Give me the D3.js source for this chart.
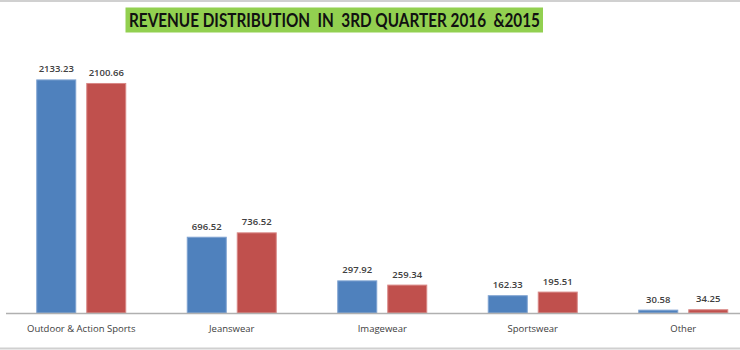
<!DOCTYPE html>
<html><head><meta charset="utf-8">
<script src="https://cdn.jsdelivr.net/npm/d3@7"></script>
<style>body{margin:0;background:#fff}svg{display:block}</style>
</head><body>
<svg id="c" width="740" height="350"></svg>
<script>
const categories = ["Outdoor & Action Sports","Jeanswear","Imagewear","Sportswear","Other"];
const series = ["2016","2015"];
const values2016 = [2133.23, 696.52, 297.92, 162.33, 30.58];
const values2015 = [2100.66, 736.52, 259.34, 195.51, 34.25];
const labels2016 = ["2133.23","696.52","297.92","162.33","30.58"];
const labels2015 = ["2100.66","736.52","259.34","195.51","34.25"];
const colors = ["#4F81BD","#C0504D"];
const strokes = ["#7fa3d1","#d98886"];
const title = "REVENUE DISTRIBUTION  IN  3RD QUARTER 2016  &2015";

const svg = d3.select("#c");
const W = 740, H = 350;
// frame lines
svg.append("line").attr("x1",0).attr("x2",W).attr("y1",1).attr("y2",1).attr("stroke","#d0d0d0").attr("stroke-width",2);
svg.append("line").attr("x1",0).attr("x2",W).attr("y1",348.5).attr("y2",348.5).attr("stroke","#d0d0d0").attr("stroke-width",2);

const x = d3.scaleBand().domain(categories).range([6, 758.5]).paddingInner(0).paddingOuter(0);
const y = d3.scaleLinear().domain([0, 2500]).range([313, 39.25]);
const barW = 40, gap = 10;

const data = categories.map((c,i)=>({c, v:[values2016[i], values2015[i]], l:[labels2016[i], labels2015[i]]}));
const g = svg.append("g");
data.forEach(d=>{
  const cx = x(d.c) + x.bandwidth()/2;
  [0,1].forEach(s=>{
    const x0 = s===0 ? cx - gap/2 - barW : cx + gap/2;
    g.append("rect").attr("x", x0+0.5).attr("y", y(d.v[s])+0.5)
      .attr("width", barW-1).attr("height", Math.max(0, y(0)-y(d.v[s])-0.5))
      .attr("fill", colors[s]).attr("stroke", strokes[s]).attr("stroke-width",1);
    g.append("text").attr("x", x0+barW/2).attr("y", y(d.v[s])-7)
      .attr("text-anchor","middle").attr("font-family","'Open Sans', 'DejaVu Sans', sans-serif")
      .attr("font-size","9.5px").attr("font-weight","600").attr("fill","#404040").text(d.l[s]);
  });
});

// axis
const axis = d3.axisBottom(x).tickSize(0).tickPadding(12);
const ax = svg.append("g").attr("transform","translate(0,313)").call(axis);
ax.select(".domain").remove();
svg.append("line").attr("x1",6).attr("x2",W).attr("y1",313.5).attr("y2",313.5).attr("stroke","#b0b0b0").attr("stroke-width",1.5);
ax.selectAll("text").attr("font-family","'Open Sans', 'DejaVu Sans', sans-serif").attr("font-size","9.5px").attr("fill","#404040");

// title
svg.append("rect").attr("x",125.5).attr("y",7.5).attr("width",417.5).attr("height",25).attr("fill","#92D050");
svg.append("text").attr("x",334.5).attr("y",26.5).attr("text-anchor","middle")
  .attr("font-family","Lato,'Open Sans',sans-serif").attr("font-weight","bold")
  .attr("font-size","18px").attr("fill","#111").attr("textLength",411).attr("lengthAdjust","spacingAndGlyphs")
  .attr("xml:space","preserve").style("white-space","pre").text(title);
</script>
</body></html>
